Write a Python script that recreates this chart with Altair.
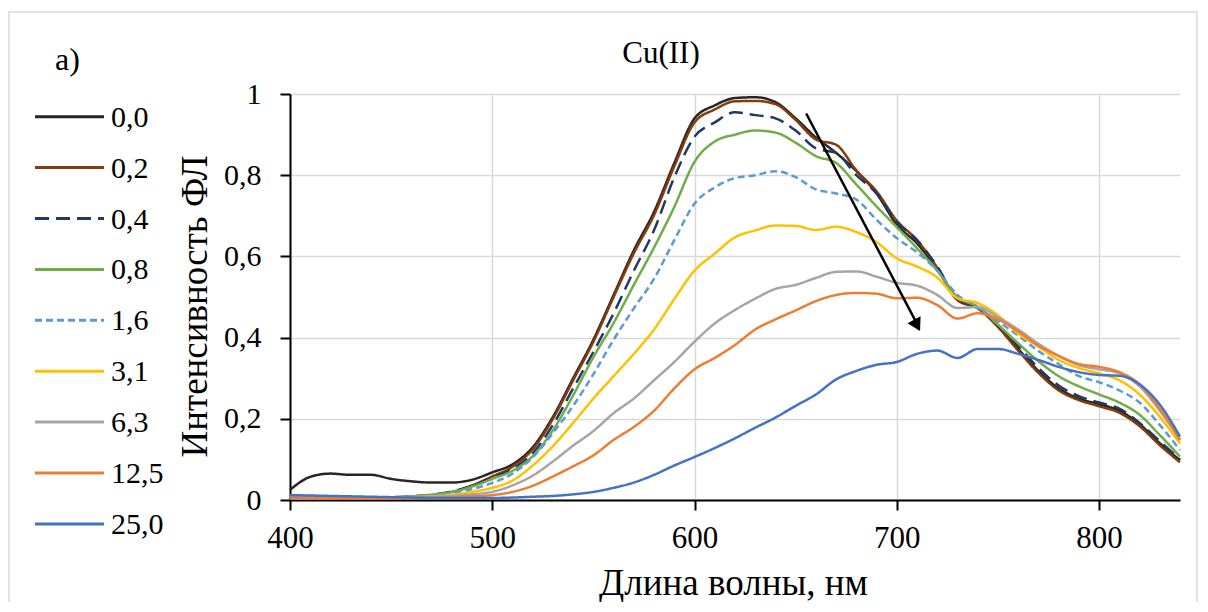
import altair as alt
import pandas as pd

wavelength = [400, 410, 420, 430, 440, 450, 460, 470, 480, 490,
              500, 510, 520, 530, 540, 550, 560, 570, 580, 590,
              600, 610, 620, 630, 640, 650, 660, 670, 680, 690,
              700, 710, 720, 730, 740, 750, 760, 770, 780, 790,
              800, 810, 820, 830, 840]

labels = ["0,0", "0,2", "0,4", "0,8", "1,6", "3,1", "6,3", "12,5", "25,0"]
colors = ["#262626", "#843c0c", "#203864", "#70ad47", "#5b9bd5",
          "#ffc000", "#a5a5a5", "#ed7d31", "#4472c4"]
dashes = [[1, 0], [1, 0], [14, 7], [1, 0], [7, 4], [1, 0], [1, 0], [1, 0], [1, 0]]

s00 = [0.025, 0.057, 0.065, 0.062, 0.062, 0.052, 0.046, 0.043, 0.043, 0.050,
       0.068, 0.088, 0.130, 0.205, 0.300, 0.395, 0.505, 0.615, 0.710, 0.830,
       0.940, 0.972, 0.990, 0.992, 0.980, 0.940, 0.893, 0.855, 0.810, 0.755,
       0.678, 0.632, 0.568, 0.497, 0.475, 0.430, 0.372, 0.318, 0.275, 0.250,
       0.236, 0.220, 0.187, 0.140, 0.098]
s02 = [0.006, 0.006, 0.005, 0.005, 0.005, 0.006, 0.008, 0.012, 0.020, 0.036,
       0.058, 0.082, 0.125, 0.200, 0.295, 0.390, 0.500, 0.608, 0.702, 0.822,
       0.930, 0.962, 0.982, 0.983, 0.975, 0.936, 0.888, 0.875, 0.812, 0.760,
       0.688, 0.640, 0.572, 0.492, 0.472, 0.426, 0.368, 0.313, 0.270, 0.246,
       0.231, 0.215, 0.182, 0.135, 0.093]
s04 = [0.010, 0.009, 0.008, 0.007, 0.007, 0.007, 0.009, 0.013, 0.021, 0.035,
       0.055, 0.076, 0.115, 0.185, 0.275, 0.365, 0.460, 0.565, 0.665, 0.795,
       0.895, 0.930, 0.955, 0.948, 0.940, 0.910, 0.866, 0.855, 0.800, 0.755,
       0.685, 0.640, 0.575, 0.495, 0.475, 0.430, 0.380, 0.325, 0.282, 0.256,
       0.240, 0.225, 0.190, 0.145, 0.100]
s08 = [0.010, 0.009, 0.008, 0.007, 0.007, 0.007, 0.009, 0.013, 0.020, 0.033,
       0.052, 0.072, 0.108, 0.172, 0.258, 0.352, 0.436, 0.530, 0.622, 0.722,
       0.833, 0.883, 0.900, 0.910, 0.905, 0.880, 0.847, 0.830, 0.777, 0.723,
       0.672, 0.620, 0.565, 0.500, 0.476, 0.432, 0.386, 0.342, 0.305, 0.280,
       0.260, 0.240, 0.210, 0.160, 0.107]
s16 = [0.011, 0.010, 0.009, 0.008, 0.007, 0.007, 0.008, 0.011, 0.016, 0.027,
       0.042, 0.065, 0.105, 0.165, 0.232, 0.310, 0.395, 0.472, 0.545, 0.640,
       0.730, 0.770, 0.793, 0.800, 0.810, 0.795, 0.765, 0.755, 0.740, 0.690,
       0.645, 0.610, 0.565, 0.505, 0.475, 0.440, 0.405, 0.367, 0.335, 0.305,
       0.290, 0.270, 0.240, 0.185, 0.123]
s31 = [0.010, 0.009, 0.008, 0.007, 0.006, 0.006, 0.007, 0.009, 0.013, 0.020,
       0.030, 0.048, 0.085, 0.133, 0.190, 0.250, 0.305, 0.360, 0.420, 0.495,
       0.565, 0.607, 0.647, 0.664, 0.676, 0.675, 0.665, 0.673, 0.660, 0.635,
       0.595, 0.575, 0.548, 0.497, 0.485, 0.455, 0.410, 0.378, 0.345, 0.325,
       0.312, 0.295, 0.260, 0.205, 0.139]
s63 = [0.010, 0.009, 0.008, 0.007, 0.006, 0.006, 0.006, 0.008, 0.010, 0.014,
       0.020, 0.036, 0.060, 0.095, 0.134, 0.170, 0.214, 0.250, 0.295, 0.340,
       0.390, 0.435, 0.468, 0.496, 0.520, 0.530, 0.547, 0.562, 0.563, 0.550,
       0.535, 0.528, 0.505, 0.473, 0.475, 0.450, 0.420, 0.385, 0.355, 0.332,
       0.322, 0.312, 0.280, 0.220, 0.148]
s125 = [0.004, 0.004, 0.004, 0.004, 0.004, 0.004, 0.005, 0.006, 0.007, 0.009,
        0.012, 0.020, 0.035, 0.058, 0.083, 0.110, 0.148, 0.180, 0.220, 0.275,
        0.322, 0.350, 0.382, 0.420, 0.445, 0.467, 0.490, 0.505, 0.510, 0.508,
        0.497, 0.498, 0.480, 0.447, 0.460, 0.445, 0.415, 0.380, 0.355, 0.335,
        0.328, 0.315, 0.285, 0.225, 0.148]
s250 = [0.012, 0.011, 0.010, 0.009, 0.008, 0.007, 0.006, 0.005, 0.005, 0.005,
        0.005, 0.006, 0.008, 0.010, 0.014, 0.020, 0.030, 0.043, 0.062, 0.085,
        0.106, 0.128, 0.152, 0.178, 0.203, 0.232, 0.260, 0.297, 0.318, 0.333,
        0.340, 0.360, 0.368, 0.350, 0.372, 0.372, 0.360, 0.345, 0.328, 0.315,
        0.308, 0.306, 0.285, 0.235, 0.156]

series = [s00, s02, s04, s08, s16, s31, s63, s125, s250]

rows = []
for k, (lab, vals) in enumerate(zip(labels, series)):
    for w, v in zip(wavelength, vals):
        rows.append({"wl": w, "v": v, "series": lab, "k": k})
df = pd.DataFrame(rows)

FONT = "Liberation Serif"

# plot area: left 290, top 94 (page coords), 890 x 406
x_enc = alt.X("wl:Q",
              scale=alt.Scale(domain=[400, 840], nice=False, zero=False),
              axis=alt.Axis(values=[400, 500, 600, 700, 800], grid=True,
                            gridColor="#d9d9d9", gridWidth=1.5,
                            domainColor="black", domainWidth=2,
                            tickColor="black", tickWidth=2, tickSize=10,
                            labelFont=FONT, labelFontSize=31, labelColor="black",
                            labelPadding=37, labelBaseline="alphabetic",
                            labelFlush=False, labelOverlap=False,
                            title="Длина волны, нм", titleFont=FONT,
                            titleFontSize=37, titleFontWeight="normal",
                            titleColor="black", titleX=443, titleY=94,
                            titleAlign="center", titleBaseline="alphabetic"))
y_enc = alt.Y("v:Q",
              scale=alt.Scale(domain=[0, 1], nice=False),
              axis=alt.Axis(values=[0, 0.2, 0.4, 0.6, 0.8, 1], grid=True,
                            gridColor="#d9d9d9", gridWidth=1.5,
                            domainColor="black", domainWidth=2,
                            tickColor="black", tickWidth=2, tickSize=10,
                            labelFont=FONT, labelFontSize=30, labelColor="black",
                            labelPadding=19, labelFlush=False, labelOverlap=False,
                            labelExpr="replace(format(datum.value, '~g'), '.', ',')",
                            title="Интенсивность ФЛ", titleFont=FONT,
                            titleFontSize=37, titleFontWeight="normal",
                            titleColor="black", titleAngle=270,
                            titleX=-95, titleY=212, titleAlign="center",
                            titleBaseline="middle"))

lines = alt.Chart(df).mark_line(strokeWidth=2.5, interpolate="monotone").encode(
    x=x_enc, y=y_enc,
    color=alt.Color("series:N", scale=alt.Scale(domain=labels, range=colors), legend=None),
    strokeDash=alt.StrokeDash("series:N", scale=alt.Scale(domain=labels, range=dashes), legend=None),
    order=alt.Order("wl:Q"),
)

one = pd.DataFrame({"a": [0]})

# arrow annotation
arrow_df = pd.DataFrame({"x": [655.2], "y": [0.952], "x2": [710.2], "y2": [0.432]})
arrow = alt.Chart(arrow_df).mark_rule(color="black", strokeWidth=2.5).encode(
    x="x:Q", y="y:Q", x2="x2:Q", y2="y2:Q")
head_df = pd.DataFrame({"x": [710.0], "y": [0.430]})
head = alt.Chart(head_df).mark_point(shape="triangle-down", filled=True, color="black",
                                      size=220, angle=332, opacity=1).encode(
    x="x:Q", y="y:Q")

# outer frame
frame = alt.Chart(one).mark_rect(fillOpacity=0, stroke="#d9d9d9", strokeWidth=1.5).encode(
    x=alt.value(-281), x2=alt.value(907), y=alt.value(-82), y2=alt.value(530))

title = alt.Chart(one).mark_text(text="Cu(II)", font=FONT, fontSize=31, color="black",
                                 align="center", baseline="alphabetic").encode(
    x=alt.value(371), y=alt.value(-31))
panel = alt.Chart(one).mark_text(text="a)", font=FONT, fontSize=32, color="black",
                                 align="left", baseline="alphabetic").encode(
    x=alt.value(-235), y=alt.value(-24))

legend_layers = []
for i, lab in enumerate(labels):
    yy = 22.7 + 50.9 * i
    legend_layers.append(
        alt.Chart(one).mark_rule(color=colors[i], strokeWidth=3, strokeDash=dashes[i]).encode(
            x=alt.value(-255), x2=alt.value(-186), y=alt.value(yy)))
    legend_layers.append(
        alt.Chart(one).mark_text(text=lab, font=FONT, fontSize=30, color="black",
                                 align="left", baseline="middle").encode(
            x=alt.value(-179), y=alt.value(yy + 1)))

chart = alt.layer(frame, lines, arrow, head, title, panel, *legend_layers).properties(
    width=890, height=406,
    padding={"left": 282, "top": 86, "right": 18, "bottom": 102},
    autosize=alt.AutoSizeParams(type="none"),
    background="white",
).configure_view(strokeWidth=0)

chart.save("out.html", embed_options={"renderer": "svg", "actions": False})
